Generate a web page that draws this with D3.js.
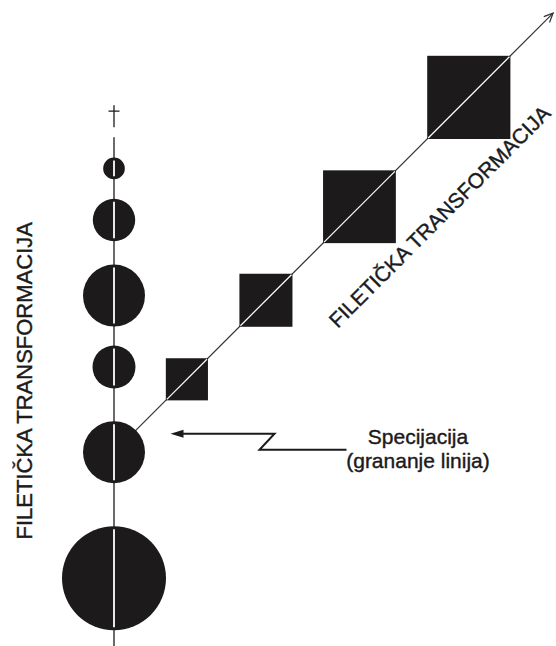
<!DOCTYPE html>
<html>
<head>
<meta charset="utf-8">
<script src="https://cdn.jsdelivr.net/npm/d3@7"></script>
<style>
  html, body { margin: 0; padding: 0; background: #fff; }
  svg { display: block; }
</style>
</head>
<body>
<svg id="chart"></svg>
<script>
// main lineage: time of each stage (0 = bottom) and its body size
const stemTimes = [11.3, 32.3, 46.5, 58.4, 71.0, 79.6];
const stemSizes = [10.0, 5.96, 4.13, 5.96, 4.08, 2.08];
const stemTopTime = 84.8;
const extinctTime = 88.3;
// new branch starts at the second stage
const branchTime = 32.3;
const branchSteps = [16.6, 34.6, 55.9, 80.8];
const branchSizes = [8.1, 10.2, 14.0, 16.0];
const branchEnd = 100;
const axisLabel = "FILETIČKA TRANSFORMACIJA";
const noteLines = ["Specijacija", "(grananje linija)"];

const W = 556, H = 646;
const ink = "#1c1a1b";
const font = "'Liberation Sans', Arial, Helvetica, sans-serif";

const y = d3.scaleLinear().domain([0, 100]).range([H, 46]);
const size = d3.scaleLinear().domain([0, 10]).range([0, 52]);
const along = d3.scaleLinear().domain([0, 100]).range([0, 621]);
const stemX = 114;
const c = Math.SQRT1_2;
const origin = [stemX, y(branchTime)];

// point on the branch, off = distance to the lower right of it
function pt(s, off = 0) {
    let d = along(s);
    return [origin[0] + d * c + off * c, origin[1] - d * c + off * c];
}

let svg = d3.select("#chart")
    .attr("width", W)
    .attr("height", H);

// stem line
svg.append("line")
    .attr("x1", stemX).attr("x2", stemX)
    .attr("y1", y(stemTopTime)).attr("y2", H)
    .attr("stroke", ink)
    .attr("stroke-width", 1.3);

// dagger for extinction
let dy = y(extinctTime);
svg.append("path")
    .attr("d", `M${stemX},${dy - 11}V${dy + 11}M${stemX - 5.5},${dy - 5}H${stemX + 5.5}`)
    .attr("stroke", ink)
    .attr("stroke-width", 1.3)
    .attr("fill", "none");

// branch line and arrow head
let tip = pt(branchEnd);
svg.append("line")
    .attr("x1", origin[0]).attr("y1", origin[1])
    .attr("x2", tip[0]).attr("y2", tip[1])
    .attr("stroke", "#333")
    .attr("stroke-width", 1.2);

let back = Math.atan2(origin[1] - tip[1], origin[0] - tip[0]);
let head = [-0.42, 0.42].map(a => [tip[0] + 10 * Math.cos(back + a), tip[1] + 10 * Math.sin(back + a)]);
svg.append("path")
    .attr("d", `M${head[0]}L${tip}L${head[1]}`)
    .attr("stroke", "#333")
    .attr("stroke-width", 1.2)
    .attr("fill", "none");

// circles of the main lineage
let stem = stemTimes.map((t, i) => ({ t: t, r: size(stemSizes[i]) }));
svg.selectAll("circle.stage")
    .data(stem)
    .enter()
    .append("circle")
    .attr("class", "stage")
    .attr("cx", stemX)
    .attr("cy", d => y(d.t))
    .attr("r", d => d.r)
    .attr("fill", ink);

svg.selectAll("line.inner")
    .data(stem)
    .enter()
    .append("line")
    .attr("class", "inner")
    .attr("x1", stemX).attr("x2", stemX)
    .attr("y1", d => y(d.t) - d.r + 3)
    .attr("y2", d => y(d.t) + d.r - 3)
    .attr("stroke", "#fff")
    .attr("stroke-width", 1.8);

// squares of the new branch
let branch = branchSteps.map((s, i) => ({ p: pt(s), side: size(branchSizes[i]) }));
svg.selectAll("rect.stage")
    .data(branch)
    .enter()
    .append("rect")
    .attr("class", "stage")
    .attr("x", d => d.p[0] - d.side / 2)
    .attr("y", d => d.p[1] - d.side / 2)
    .attr("width", d => d.side)
    .attr("height", d => d.side)
    .attr("fill", ink);

svg.selectAll("line.diag")
    .data(branch)
    .enter()
    .append("line")
    .attr("class", "diag")
    .attr("x1", d => d.p[0] - d.side / 2 + 1)
    .attr("y1", d => d.p[1] + d.side / 2 - 1)
    .attr("x2", d => d.p[0] + d.side / 2 - 1)
    .attr("y2", d => d.p[1] - d.side / 2 + 1)
    .attr("stroke", "#fff")
    .attr("stroke-width", 1.2);

// axis labels
svg.append("text")
    .attr("transform", `translate(32,${y(44.2)}) rotate(-90)`)
    .attr("text-anchor", "middle")
    .attr("font-family", font)
    .attr("font-size", "22px")
    .attr("fill", ink)
    .attr("stroke", ink)
    .attr("stroke-width", 0.4)
    .text(axisLabel);

let lp = pt(63.9, 71);
svg.append("text")
    .attr("transform", `translate(${lp[0]},${lp[1]}) rotate(-45)`)
    .attr("text-anchor", "middle")
    .attr("font-family", font)
    .attr("font-size", "21px")
    .attr("fill", ink)
    .attr("stroke", ink)
    .attr("stroke-width", 0.4)
    .text(axisLabel);

// speciation note with zigzag arrow
let ax = origin[0] + 56.5, ay = origin[1] - 18.5;
svg.append("path")
    .attr("d", `M${ax},${ay}L${ax + 13},${ay - 4}L${ax + 13},${ay + 4}Z`)
    .attr("fill", ink);
svg.append("path")
    .attr("d", `M${ax + 10},${ay}H${ax + 104}L${ax + 89},${ay + 16}H${ax + 176}`)
    .attr("stroke", ink)
    .attr("stroke-width", 2)
    .attr("fill", "none");

svg.selectAll("text.note")
    .data(noteLines)
    .enter()
    .append("text")
    .attr("class", "note")
    .attr("x", 418)
    .attr("y", (d, i) => ay + 10 + i * 24)
    .attr("text-anchor", "middle")
    .attr("font-family", font)
    .attr("font-size", "21px")
    .attr("fill", ink)
    .attr("stroke", ink)
    .attr("stroke-width", 0.4)
    .text(d => d);
</script>
</body>
</html>
